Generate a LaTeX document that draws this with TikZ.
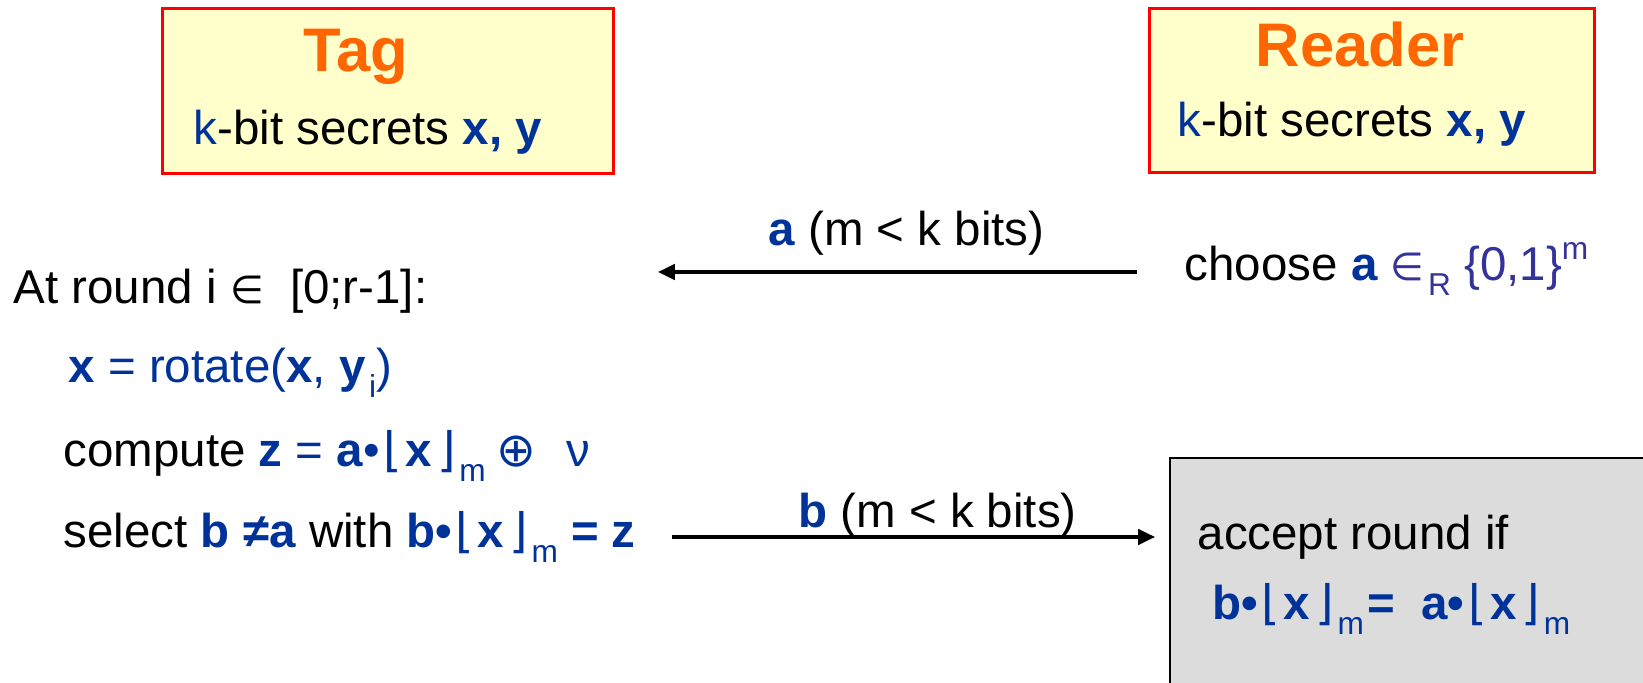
\documentclass[tikz,border=0pt]{standalone}
\usepackage{fontspec}
\setmainfont{Liberation Sans}
\newfontfamily\symf{DejaVu Sans}
\usetikzlibrary{arrows.meta}

\definecolor{dblue}{HTML}{003399}
\definecolor{pblue}{HTML}{333399}
\definecolor{torange}{HTML}{FF6600}
\definecolor{pyellow}{HTML}{FFFFCC}
\definecolor{cgrey}{HTML}{DCDCDC}

\newcommand\bl[1]{\textcolor{dblue}{\textbf{#1}}}
\newcommand\lo[1]{\kern1pt\raisebox{-0.3em}{\fontsize{9}{9}\selectfont\mdseries #1}}
\newcommand\hi[1]{\raisebox{0.45em}{\fontsize{9}{9}\selectfont #1}}
\newcommand\fl{\kern1pt{\symf\mdseries ⌊}\kern1pt}
\newcommand\fr{\kern1.5pt{\symf\mdseries ⌋}}
\newcommand\elem{{\symf\fontsize{11}{11}\selectfont ∈}}

\tikzset{
  party/.style={draw=red, fill=pyellow, line width=0.75pt, anchor=north west, inner sep=0pt},
  title/.style={inner sep=0pt, anchor=base west, text=torange, font=\fontsize{17.5}{20}\selectfont\bfseries},
  txt/.style={inner sep=0pt, anchor=base west, font=\fontsize{13.5}{16}\selectfont},
  msg/.style={->, line width=0.9pt, >={Triangle[length=4.8pt,width=4.4pt]}},
}

\begin{document}
\begin{tikzpicture}[x=0.01cm, y=-0.01cm]
  \useasboundingbox (0,0) rectangle (1643,683);
  % the two parties
  \node[party, minimum width=4.51cm, minimum height=1.65cm] (tag) at (161,7) {};
  \node[party, minimum width=4.45cm, minimum height=1.64cm] (rdr) at (1148,7) {};
  \node[title] (tagt) at (303,72) {Tag};
  \node[title] (rdrt) at (1255,67) {Reader};
  \node[txt] (tagk) at (193,145) {\textcolor{dblue}{k}-bit secrets \bl{x, y}};
  \node[txt] (rdrk) at (1177,137) {\textcolor{dblue}{k}-bit secrets \bl{x, y}};

  % reader challenge
  \node[txt] (choose) at (1184,281) {choose \bl{a} \textcolor{pblue}{\elem\lo{R} \{0,1\}\hi{m}}};
  \coordinate (astart) at (1137,272);
  \coordinate (aend) at (658,272);
  \draw[msg] (astart) -- (aend)
    node[txt, anchor=base, midway, xshift=0.09cm, yshift=0.26cm] (alab) {\bl{a} (m < k bits)};

  % tag side
  \node[txt] (round) at (13,304) {At round i \elem\ \ [0;r-1]:};
  \node[txt] (rot) at (68,383) {\textcolor{dblue}{\textbf{x} = rotate(\textbf{x}, \textbf{y}\lo{i})}};
  \node[txt] (comp) at (63,467) {compute \textcolor{dblue}{\textbf{z} = \textbf{a}•\fl\textbf{x}\fr\lo{m}\kern3pt{\symf ⊕}\hspace{0.65em}ν}};
  \node[txt] (sel) at (63,548) {select \bl{b ≠a} with \bl{b•\fl x\fr\lo{m} = z}};

  % reader check
  \begin{scope}
    \clip (0,0) rectangle (1643,683);
    \node[draw=black, fill=cgrey, line width=0.7pt, anchor=north west,
          minimum width=5.2cm, minimum height=2.8cm] (chk) at (1169,457) {};
  \end{scope}
  \node[txt] (acc) at (1197,550) {accept round if};
  \node[txt] (eq) at (1212,620) {\bl{b•\fl x\fr\lo{m}\kern1pt= \ a•\fl x\fr\lo{m}}};

  \coordinate (bstart) at (672,537);
  \draw[msg, shorten >=0.14cm] (bstart) -- (bstart -| chk.west)
    node[txt, anchor=base, midway, xshift=0.17cm, yshift=0.09cm] (blab) {\bl{b} (m < k bits)};
\end{tikzpicture}
\end{document}
